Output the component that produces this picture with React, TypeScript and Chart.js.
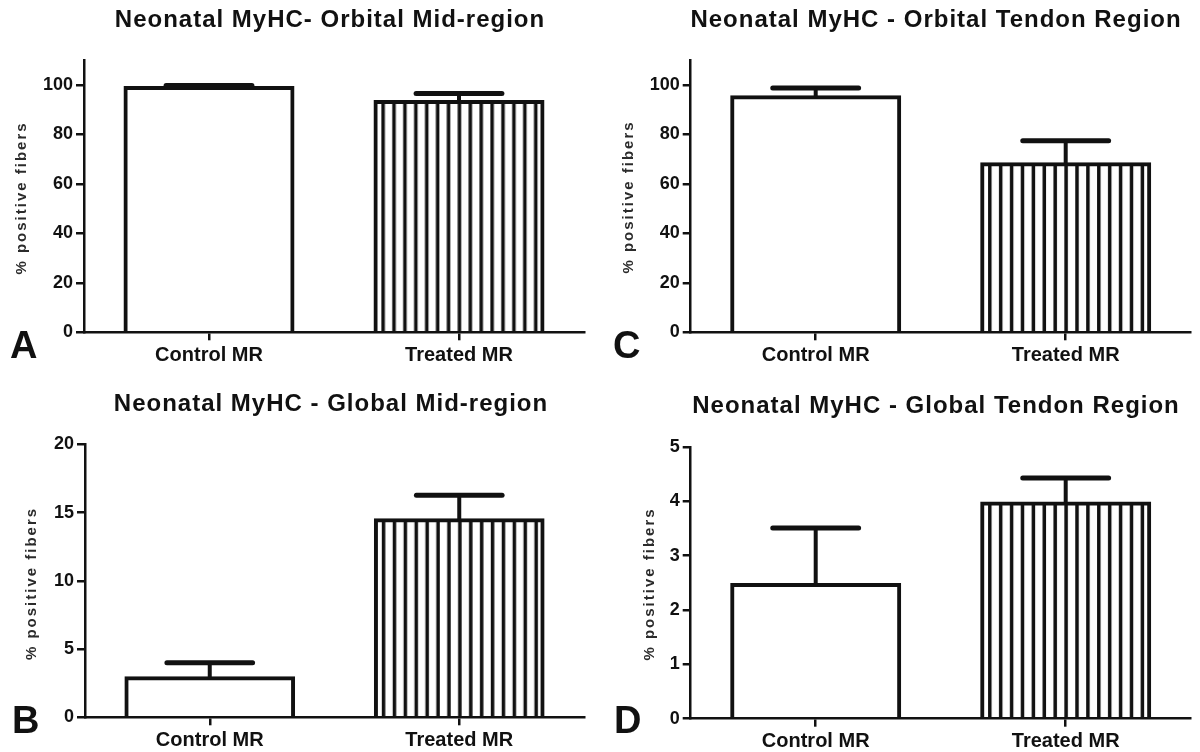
import React, { useEffect, useRef } from 'react';
import { Chart, registerables } from 'chart.js';

Chart.register(...registerables);

// ---------------- data ----------------
const categories = ['Control MR', 'Treated MR'];

const orbitalMidMeans = [98.7, 93.0];
const orbitalMidErrors = [1.0, 3.5];

const orbitalTendonMeans = [95.0, 67.9];
const orbitalTendonErrors = [3.7, 9.5];

const globalMidMeans = [2.86, 14.43];
const globalMidErrors = [1.14, 1.83];

const globalTendonMeans = [2.46, 3.96];
const globalTendonErrors = [1.05, 0.47];

const panelTitles = [
  'Neonatal MyHC- Orbital Mid-region',
  'Neonatal MyHC - Global Mid-region',
  'Neonatal MyHC - Orbital Tendon Region',
  'Neonatal MyHC - Global Tendon Region',
];
const panelLetters = ['A', 'B', 'C', 'D'];
const yAxisTitle = '% positive fibers';
const yMaxValues = [110, 20, 110, 5];
const yStepSizes = [20, 5, 20, 1];

// ---------------- style ----------------
const FONT = '"Liberation Sans", Arial, Helvetica, sans-serif';
const INK = '#111111';
Chart.defaults.font.family = FONT;
Chart.defaults.color = INK;

type PanelSpec = {
  means: number[];
  errors: number[];
  title: string;
  letter: string;
  yMax: number;
  yStep: number;
  left: number;
  top: number;
  w: number;
  h: number;
  areaLeft: number;
  areaRight: number;
  areaTop: number;
  areaBottom: number;
  titleX: number;
  titleY: number;
  letterX: number;
  letterY: number;
  ylabX: number;
  ylabY: number;
};

const panels: PanelSpec[] = [
  {
    means: orbitalMidMeans, errors: orbitalMidErrors, title: panelTitles[0], letter: panelLetters[0],
    yMax: yMaxValues[0], yStep: yStepSizes[0],
    left: 0, top: 0, w: 600, h: 376,
    areaLeft: 84, areaRight: 584, areaTop: 60, areaBottom: 332.3,
    titleX: 330, titleY: 27, letterX: 10, letterY: 358, ylabX: 22, ylabY: 198,
  },
  {
    means: globalMidMeans, errors: globalMidErrors, title: panelTitles[1], letter: panelLetters[1],
    yMax: yMaxValues[1], yStep: yStepSizes[1],
    left: 0, top: 376, w: 600, h: 376,
    areaLeft: 85, areaRight: 584, areaTop: 68.3, areaBottom: 341.3,
    titleX: 331, titleY: 35, letterX: 12, letterY: 357, ylabX: 32, ylabY: 207.5,
  },
  {
    means: orbitalTendonMeans, errors: orbitalTendonErrors, title: panelTitles[2], letter: panelLetters[2],
    yMax: yMaxValues[2], yStep: yStepSizes[2],
    left: 600, top: 0, w: 600, h: 376,
    areaLeft: 90.7, areaRight: 590.7, areaTop: 60, areaBottom: 332.3,
    titleX: 336, titleY: 27, letterX: 13, letterY: 358, ylabX: 28.8, ylabY: 197,
  },
  {
    means: globalTendonMeans, errors: globalTendonErrors, title: panelTitles[3], letter: panelLetters[3],
    yMax: yMaxValues[3], yStep: yStepSizes[3],
    left: 600, top: 376, w: 600, h: 376,
    areaLeft: 90.7, areaRight: 590.7, areaTop: 71, areaBottom: 342.7,
    titleX: 336, titleY: 37, letterX: 14, letterY: 357, ylabX: 50, ylabY: 208,
  },
];

const STRIPE_PERIOD = 10.9;
const STRIPE_WIDTH = 3.5;
const STRIPE_OFFSET = 7.6;

function makeStripePattern(): CanvasPattern | string {
  const tile = document.createElement('canvas');
  const periods = 10;
  tile.width = Math.round(STRIPE_PERIOD * periods);
  tile.height = 4;
  const tctx = tile.getContext('2d');
  if (!tctx) return '#fff';
  tctx.fillStyle = '#ffffff';
  tctx.fillRect(0, 0, tile.width, tile.height);
  tctx.fillStyle = INK;
  for (let k = 0; k < periods; k++) {
    tctx.fillRect(k * STRIPE_PERIOD, 0, STRIPE_WIDTH, tile.height);
  }
  const helper = document.createElement('canvas').getContext('2d');
  const pat = helper ? helper.createPattern(tile, 'repeat') : null;
  return pat || '#fff';
}

function Panel({ spec }: { spec: PanelSpec }) {
  const ref = useRef<HTMLCanvasElement | null>(null);

  useEffect(() => {
    const canvas = ref.current;
    if (!canvas) return;
    const pattern = makeStripePattern();

    const decor = {
      id: 'panelDecor',
      beforeDatasetsDraw(chart: any) {
        const meta = chart.getDatasetMeta(0);
        const el = meta.data[1];
        if (el && typeof pattern !== 'string' && (pattern as any).setTransform) {
          const left = el.x - el.width / 2;
          (pattern as any).setTransform(
            new DOMMatrix().translate(left + STRIPE_OFFSET - STRIPE_WIDTH / 2, 0)
          );
        }
      },
      afterDatasetsDraw(chart: any) {
        const ctx = chart.ctx as CanvasRenderingContext2D;
        const yScale = chart.scales.y;
        const meta = chart.getDatasetMeta(0);
        meta.data.forEach((bar: any, i: number) => {
          const v = spec.means[i];
          const e = spec.errors[i];
          const yBar = yScale.getPixelForValue(v);
          const yTop = yScale.getPixelForValue(v + e);
          const half = bar.width * 0.257;
          ctx.save();
          ctx.strokeStyle = INK;
          ctx.lineWidth = 4;
          ctx.lineCap = 'butt';
          ctx.beginPath();
          ctx.moveTo(bar.x, yBar);
          ctx.lineTo(bar.x, yTop);
          ctx.stroke();
          ctx.lineWidth = 5;
          ctx.lineCap = 'round';
          ctx.beginPath();
          ctx.moveTo(bar.x - half, yTop);
          ctx.lineTo(bar.x + half, yTop);
          ctx.stroke();
          ctx.restore();
        });
      },
      afterDraw(chart: any) {
        const ctx = chart.ctx as any;
        ctx.save();
        ctx.fillStyle = INK;
        // title
        ctx.font = `bold 24px ${FONT}`;
        ctx.textAlign = 'center';
        ctx.textBaseline = 'alphabetic';
        ctx.letterSpacing = '1px';
        ctx.fillText(spec.title, spec.titleX, spec.titleY);
        // panel letter
        ctx.letterSpacing = '0px';
        ctx.font = `bold 38px ${FONT}`;
        ctx.textAlign = 'left';
        ctx.fillText(spec.letter, spec.letterX, spec.letterY);
        // y axis title
        ctx.save();
        ctx.translate(spec.ylabX, spec.ylabY);
        ctx.rotate(-Math.PI / 2);
        ctx.font = `bold 15px ${FONT}`;
        ctx.fillStyle = '#2b2b2b';
        ctx.letterSpacing = '2px';
        ctx.textAlign = 'center';
        ctx.textBaseline = 'middle';
        ctx.fillText(yAxisTitle, 0, 0);
        ctx.restore();
        ctx.restore();
      },
    };

    const chart = new Chart(canvas, {
      type: 'bar',
      data: {
        labels: categories,
        datasets: [
          {
            data: spec.means,
            backgroundColor: ['#ffffff', pattern as any],
            borderColor: INK,
            borderWidth: 4,
            borderSkipped: 'start',
            inflateAmount: 2,
            barPercentage: 0.668,
            categoryPercentage: 1,
          } as any,
        ],
      },
      options: {
        responsive: false,
        maintainAspectRatio: false,
        animation: false,
        devicePixelRatio: 1,
        events: [],
        layout: {
          padding: {
            left: 0,
            top: spec.areaTop,
            right: spec.w - spec.areaRight,
            bottom: 0,
          },
        },
        plugins: {
          legend: { display: false },
          title: { display: false },
          tooltip: { enabled: false },
        },
        scales: {
          x: {
            type: 'category',
            offset: true,
            grid: {
              offset: false,
              drawOnChartArea: false,
              drawTicks: true,
              tickLength: 8,
              color: INK,
              lineWidth: 2.5,
            },
            border: { display: true, color: INK, width: 2.5, z: 1 },
            ticks: {
              color: INK,
              padding: 3,
              font: { family: FONT, size: 20, weight: 'bold' },
              maxRotation: 0,
              autoSkip: false,
            },
            afterFit: (s: any) => {
              s.height = spec.h - spec.areaBottom;
            },
          },
          y: {
            type: 'linear',
            min: 0,
            max: spec.yMax,
            grid: {
              drawOnChartArea: false,
              drawTicks: true,
              tickLength: 8,
              color: INK,
              lineWidth: 2.5,
            },
            border: { display: true, color: INK, width: 2.5, z: 1 },
            ticks: {
              stepSize: spec.yStep,
              includeBounds: false,
              color: INK,
              padding: 3,
              font: { family: FONT, size: 18, weight: 'bold' },
            },
            afterFit: (s: any) => {
              s.width = spec.areaLeft;
            },
          },
        },
      } as any,
      plugins: [decor as any],
    });

    return () => {
      chart.destroy();
    };
  }, [spec]);

  return (
    <div
      style={{
        position: 'absolute',
        left: spec.left,
        top: spec.top,
        width: spec.w,
        height: spec.h,
      }}
    >
      <canvas
        ref={ref}
        width={spec.w}
        height={spec.h}
        style={{ display: 'block', width: spec.w, height: spec.h }}
      />
    </div>
  );
}

export default function App() {
  return (
    <div
      style={{
        position: 'absolute',
        left: 0,
        top: 0,
        width: 1200,
        height: 752,
        background: '#ffffff',
        overflow: 'hidden',
      }}
    >
      {panels.map((p, i) => (
        <Panel key={i} spec={p} />
      ))}
    </div>
  );
}
